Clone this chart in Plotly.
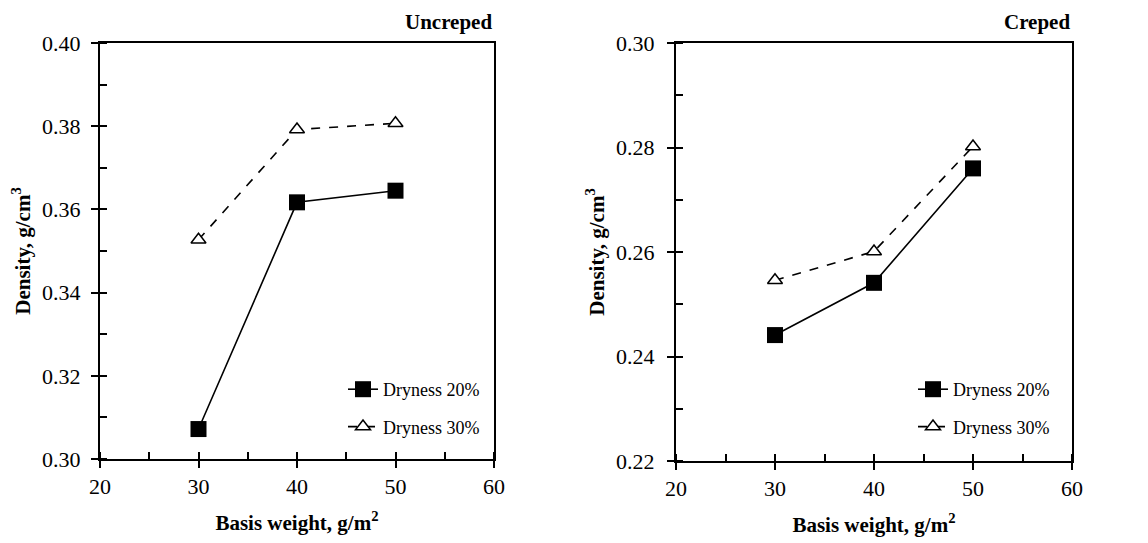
import plotly.graph_objects as go

basis_weight = [30, 40, 50]
uncreped_d20 = [0.3072, 0.3617, 0.3645]
uncreped_d30 = [0.3527, 0.3792, 0.3807]
creped_d20 = [0.2441, 0.2541, 0.2760]
creped_d30 = [0.2546, 0.2601, 0.2802]
series_names = ["Dryness 20%", "Dryness 30%"]
panel_titles = ["Uncreped", "Creped"]

W, H = 1148, 543
FONT = "Liberation Serif"

fig = go.Figure()

def add_panel(xa, ya, d20, d30, legend):
    fig.add_trace(go.Scatter(
        x=basis_weight, y=d20, name=series_names[0], mode="lines+markers",
        line=dict(color="black", width=1.6),
        marker=dict(symbol="square", size=16, color="black"),
        xaxis=xa, yaxis=ya, legend=legend, legendgroup=legend + "a"))
    fig.add_trace(go.Scatter(
        x=basis_weight, y=d30, name=series_names[1], mode="lines+markers",
        line=dict(color="black", width=1.6, dash="dash"),
        marker=dict(symbol="triangle-up", size=13, color="white",
                    line=dict(color="black", width=1.5)),
        xaxis=xa, yaxis=ya, legend=legend, legendgroup=legend + "b"))

add_panel("x", "y", uncreped_d20, uncreped_d30, "legend")
add_panel("x2", "y2", creped_d20, creped_d30, "legend2")

def px_x(p):
    return p / W

def px_y(p):
    return 1 - p / H

axis_common = dict(
    showline=True, linecolor="black", linewidth=2, mirror=True,
    ticks="outside", ticklen=7, tickwidth=1.5, tickcolor="black",
    showgrid=False, zeroline=False, automargin=False,
    tickfont=dict(family=FONT, size=22, color="black"),
)
xtitle = dict(text="Basis weight, g/m<sup>2</sup>",
              font=dict(family=FONT, size=21, color="black", weight="bold"), standoff=17)
ytitle = dict(text="Density, g/cm<sup>3</sup>",
              font=dict(family=FONT, size=21, color="black", weight="bold"), standoff=6)
minor_x = dict(dtick=5, ticks="inside", ticklen=7, tickwidth=1.5, tickcolor="black")
minor_y = dict(dtick=0.01, ticks="inside", ticklen=7, tickwidth=1.5, tickcolor="black")

fig.update_layout(
    width=W, height=H,
    margin=dict(l=0, r=0, t=0, b=0, pad=0, autoexpand=False),
    paper_bgcolor="white", plot_bgcolor="white",
    font=dict(family=FONT, color="black"),
    xaxis=dict(domain=[px_x(100), px_x(494)], range=[20, 60], dtick=10, anchor="y",
               minor=minor_x, title=xtitle, **axis_common),
    yaxis=dict(domain=[px_y(459), px_y(43)], range=[0.30, 0.40], dtick=0.02, tickformat=".2f",
               anchor="x", minor=minor_y, title=ytitle, ticklabelstandoff=6, **axis_common),
    xaxis2=dict(domain=[px_x(676), px_x(1072)], range=[20, 60], dtick=10, anchor="y2",
                minor=minor_x, title=xtitle, **axis_common),
    yaxis2=dict(domain=[px_y(461), px_y(43)], range=[0.22, 0.30], dtick=0.02, tickformat=".2f",
                anchor="x2", minor=minor_y, title=ytitle, ticklabelstandoff=8, **axis_common),
    legend=dict(x=px_x(343), y=px_y(371), xanchor="left", yanchor="top",
                bgcolor="rgba(0,0,0,0)", tracegroupgap=11,
                font=dict(family=FONT, size=18, color="black")),
    legend2=dict(x=px_x(913), y=px_y(371), xanchor="left", yanchor="top",
                 bgcolor="rgba(0,0,0,0)", tracegroupgap=11,
                 font=dict(family=FONT, size=18, color="black")),
    showlegend=True,
)

for title, right in zip(panel_titles, [494, 1072]):
    fig.add_annotation(text="<b>" + title + "</b>", xref="paper", yref="paper",
                       x=px_x(right), y=px_y(22), xanchor="right", yanchor="middle",
                       showarrow=False, font=dict(family=FONT, size=21, color="black"))

fig.write_html("out.html")
